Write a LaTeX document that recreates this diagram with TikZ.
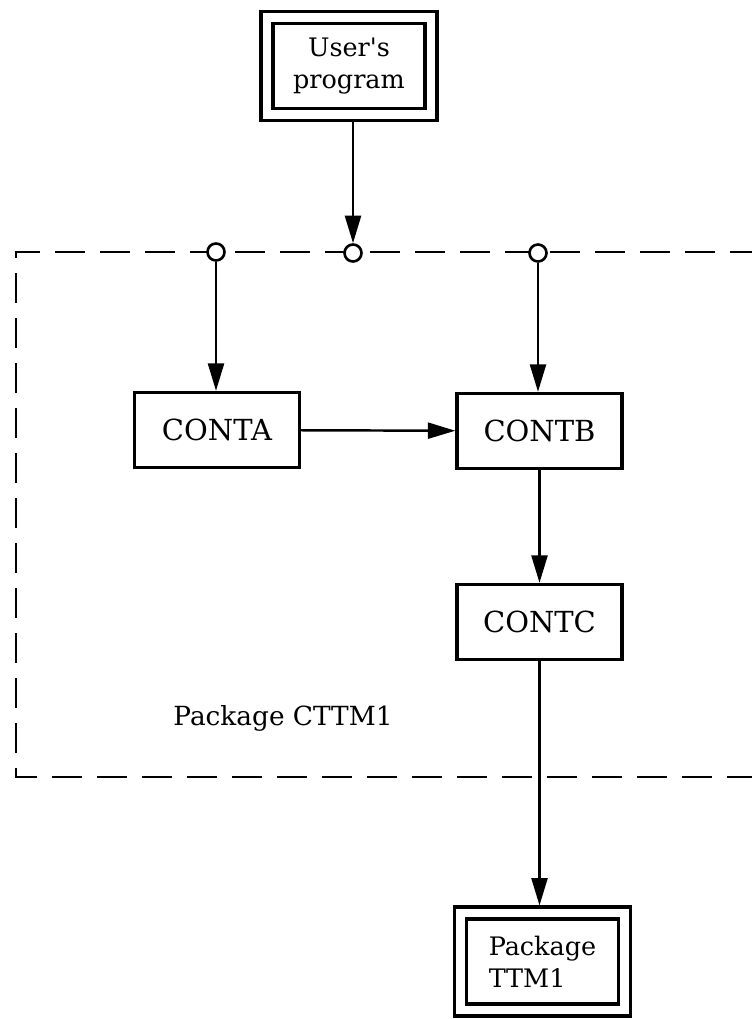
\documentclass[tikz,border=0pt]{standalone}
\usepackage{fontspec}
\setmainfont{DejaVu Serif}
\usetikzlibrary{arrows.meta,positioning}

\begin{document}
\begin{tikzpicture}[>={Triangle[length=0.55cm,width=0.32cm]}, node distance=2cm, on grid,
  routine/.style={draw, line width=1.9pt, minimum width=3.3cm, minimum height=1.5cm,
    font=\fontsize{16.5}{20}\selectfont},
  extern/.style={draw, line width=1.9pt, double, double distance=0.17cm, outer sep=0.15cm,
    minimum width=3.28cm, minimum height=1.94cm, font=\fontsize{14.5}{18}\selectfont},
  port/.style={circle, draw, fill=white, line width=1.5pt, minimum size=0.34cm, inner sep=0pt},
  link/.style={line width=1.4pt},
  frame/.style={line width=1.5pt, dash pattern=on 0.6cm off 0.3cm}]

  \useasboundingbox (0,0) rectangle (15.04,-20.38);

  % Package boundary, open on the right
  \coordinate (frameNE) at (15.2,-5.04);
  \coordinate (frameNW) at (0.32,-5.04);
  \coordinate (frameSW) at (0.32,-15.54);
  \coordinate (frameSE) at (15.2,-15.54);
  \draw[frame] (frameNE) -- (frameNW) -- (frameSW) -- (frameSE);
  \node[font=\fontsize{15}{18}\selectfont] (pkglabel) at (5.66,-14.36) {Package CTTM1};

  % Outside programs
  \node[extern, align=center] (user) at (6.98,-1.32) {User\textquotesingle s\\program};
  \node[extern, align=left] (ttm) at (10.85,-19.23) {Package\\TTM1};

  % Entry points on the boundary
  \node[port] (p1) at (4.32,-5.04) {};
  \node[port] (p2) at (7.06,-5.06) {};
  \node[port] (p3) at (10.76,-5.06) {};

  % Routines of the package
  \node[routine] (conta) at (4.34,-8.6) {CONTA};
  \node[routine] (contb) at (10.79,-8.62) {CONTB};
  \node[routine] (contc) [below=3.82cm of contb] {CONTC};

  % Calls
  \path[->, link]
    (user.south -| p2) edge (p2)
    (p1) edge (p1 |- conta.north)
    (p3) edge (p3 |- contb.north)
    (conta) edge (contb)
    (contb) edge (contc)
    (contc) edge (contc |- ttm.north);

\end{tikzpicture}
\end{document}
